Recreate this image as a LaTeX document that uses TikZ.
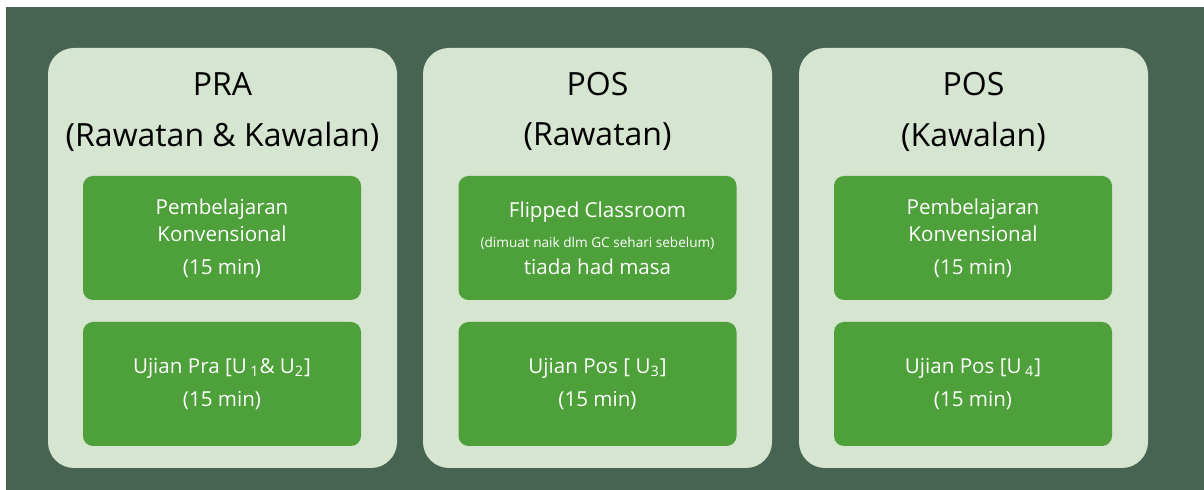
\documentclass[tikz,border=0pt]{standalone}
\usepackage{fontspec}
\usepackage{xcolor}
\usepackage{tikz}
\setmainfont{Open Sans}
\definecolor{boardgreen}{RGB}{71,99,82}
\definecolor{panelgreen}{RGB}{213,229,207}
\definecolor{boxgreen}{RGB}{78,160,58}

\begin{document}
\begin{tikzpicture}[x=0.5pt, y=-0.5pt,
  panel/.style={rectangle, fill=panelgreen, minimum width=174.5pt, minimum height=210pt, rounded corners=13pt},
  title/.style={font=\fontsize{16}{19}\selectfont, text=black, align=center},
  box/.style={rectangle, fill=boxgreen, minimum width=139pt, minimum height=62pt, rounded corners=5pt, text=white, align=center, font=\fontsize{10.3}{13.5}\selectfont}
]

% Background
\useasboundingbox (0,0) rectangle (1204,490);
\fill[boardgreen] (6,7) rectangle (1204,490);

% Panels
\node[panel] (pra) at (222.5,258) {};
\node[panel] (posr) at (597.5,258) {};
\node[panel] (posk) at (973.5,258) {};

% Titles
\node[title] (praA) at (222.5,84) {PRA};
\node[title] (praB) at (222.5,137) {(Rawatan \& Kawalan)};
\node[title] (posrA) at (597.5,84) {POS};
\node[title] (posrB) at (597.5,137) {(Rawatan)};
\node[title] (poskA) at (973.5,84) {POS};
\node[title] (poskB) at (973.5,137) {(Kawalan)};

% Upper boxes
\node[box] (konv1) at (222,238) {Pembelajaran\\Konvensional\\[3pt](15 min)};
\node[box] (flip) at (597.5,238) {Flipped Classroom\\[1.5pt]{\fontsize{6.8}{9}\selectfont (dimuat naik dlm GC sehari sebelum)}\\[0pt]tiada had masa};
\node[box] (konv2) at (973,238) {Pembelajaran\\Konvensional\\[3pt](15 min)};

% Lower boxes
\node[box] (ujpra) at (222,384) {Ujian Pra [U\,\textsubscript{1}\& U\textsubscript{2}]\\[3pt](15 min)};
\node[box] (ujpos1) at (597.5,384) {Ujian Pos [ U\textsubscript{3}]\\[3pt](15 min)};
\node[box] (ujpos2) at (973,384) {Ujian Pos [U\,\textsubscript{4}]\\[3pt](15 min)};

\end{tikzpicture}
\end{document}
